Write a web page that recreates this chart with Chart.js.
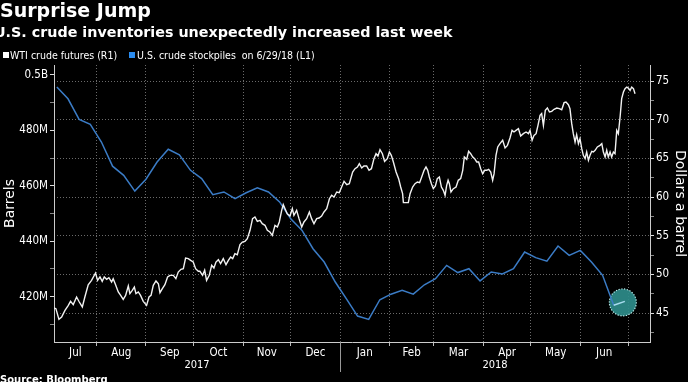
<!DOCTYPE html>
<html>
<head>
<meta charset="utf-8">
<script src="https://cdn.jsdelivr.net/npm/chart.js@4/dist/chart.umd.min.js"></script>
<style>
  html, body { margin: 0; padding: 0; background: #000; }
  body { width: 688px; height: 382px; position: relative; overflow: hidden; }
  canvas { position: absolute; left: 0; top: 0; }
  .t { position: absolute; color: #fff; white-space: nowrap; }
  #title { left: 0; top: 1px; font: bold 19px/19px "DejaVu Sans", sans-serif; }
  #subtitle { left: -6px; top: 25px; font: bold 14.3px/15px "DejaVu Sans", sans-serif; }
  .lg { position: absolute; top: 49px; font: 10.5px/12px "DejaVu Sans Condensed", "DejaVu Sans", sans-serif; color: #fff; white-space: nowrap; }
  .sq { position: absolute; top: 52px; width: 6px; height: 6px; }
  #source { left: 0; top: 374px; font: bold 10px/12px "DejaVu Sans", sans-serif; }
</style>
</head>
<body>
<canvas id="c" width="688" height="382"></canvas>
<div class="t" id="title">Surprise Jump</div>
<div class="t" id="subtitle">U.S. crude inventories unexpectedly increased last week</div>
<div class="sq" style="left:3px;background:#fff"></div>
<div class="lg" style="left:10px">WTI crude futures (R1)</div>
<div class="sq" style="left:129px;background:#2a8cf0"></div>
<div class="lg" style="left:137px">U.S. crude stockpiles&nbsp; on 6/29/18 (L1)</div>
<div class="t" id="source">Source: Bloomberg</div>
<script>
// ---------- DATA ----------
// WTI crude futures, $/barrel (days counted from 2017-07-01)
const wtiDays = [
  4.2,5.4,7.3,9.0,11.1,13.2,14.6,16.3,18.4,20.1,22.0,23.6,25.7,27.8,30.3,31.6,33.1,34.5,35.8,37.3,
  38.7,40.4,41.4,42.9,44.6,46.1,47.7,49.2,50.9,51.9,53.4,54.7,55.7,57.2,58.6,60.3,62.4,63.9,65.2,66.6,
  68.3,69.8,70.8,72.3,73.9,75.6,77.1,79.2,80.8,82.3,84.0,85.5,86.9,88.6,90.1,91.7,93.2,94.9,
  95.9,97.6,98.9,100.1,101.8,103.3,104.7,106.0,107.5,108.9,110.6,112.3,113.8,115.2,116.5,117.9,119.4,
  121.1,122.6,124.2,125.7,127.4,129.0,130.5,132.0,133.7,135.1,136.8,138.3,139.9,141.4,143.1,144.6,
  145.8,147.3,148.3,149.4,150.8,152.5,154.0,155.0,156.7,158.2,159.9,161.3,163.0,164.7,166.1,167.6,
  169.3,170.8,172.4,173.9,175.6,177.3,178.7,180.2,181.9,183.5,185.0,186.5,188.2,189.8,
  190.2,191.9,193.4,194.9,196.1,197.6,199.0,200.7,202.2,203.7,205.3,206.6,207.8,209.1,210.6,212.0,
  213.7,215.0,216.2,217.5,219.2,220.8,222.1,223.3,223.8,225.4,226.9,228.0,229.6,231.1,232.6,234.0,
  235.3,236.8,238.0,239.1,240.1,241.4,242.6,243.9,245.1,246.4,247.7,248.9,250.0,251.0,251.9,252.7,
  253.7,255.2,256.9,258.3,259.8,261.1,262.1,263.6,264.8,266.1,267.4,268.6,269.9,271.1,272.4,273.6,
  274.9,276.2,277.4,278.7,279.9,280.8,282.0,283.1,284.5,
  286.2,287.7,289.2,290.8,292.1,293.3,294.6,296.1,297.5,299.2,300.9,302.4,303.4,304.7,305.9,307.2,
  308.4,309.7,310.7,311.8,313.0,314.3,315.6,317.0,318.5,320.2,321.8,323.3,324.8,326.0,327.5,328.5,
  329.6,330.6,331.7,332.7,333.8,334.8,335.9,336.9,338.0,339.0,340.1,341.1,342.2,343.2,344.3,345.7,
  347.4,348.5,349.5,350.6,351.6,352.6,353.7,354.7,355.8,356.8,357.9,358.9,360.0,361.0,362.1,363.1,
  364.2,365.2,366.3,367.3,368.4,369.4
];
const wtiPrices = [
  45.65,45.56,44.18,44.48,45.34,45.99,46.51,46.08,47.07,46.42,45.78,47.07,48.66,49.22,50.17,49.22,49.66,49.09,49.66,49.35,
  49.57,49.01,49.44,48.66,47.72,47.28,46.77,47.28,48.49,47.50,47.93,48.36,47.50,47.72,47.28,46.51,45.99,47.07,47.28,48.58,
  49.14,48.79,47.63,48.15,48.66,49.66,49.87,49.87,49.44,50.30,50.65,50.73,52.11,52.03,51.81,51.59,50.73,50.39,
  50.39,49.87,50.52,49.22,49.87,51.16,50.82,51.59,51.90,51.38,52.03,51.25,51.81,52.24,52.03,52.67,52.54,
  53.84,54.18,54.27,54.61,55.69,57.20,57.41,56.85,56.98,56.55,56.34,55.69,55.47,55.04,56.34,56.12,
  56.77,58.28,59.01,58.49,57.84,57.54,58.49,57.63,58.28,57.20,56.12,56.77,57.20,58.06,57.20,56.55,
  57.20,57.28,57.54,58.06,58.49,59.78,60.22,60.00,60.65,60.56,61.29,62.03,61.59,61.72,
  61.72,63.23,63.66,63.88,64.31,63.75,64.01,64.01,63.45,63.66,64.96,65.60,65.30,66.12,65.60,64.61,
  64.96,65.82,65.39,64.53,63.23,62.37,61.29,60.43,59.27,59.27,59.27,60.43,61.29,61.72,61.94,61.85,
  62.59,63.45,63.88,63.45,62.59,61.72,61.08,61.42,62.37,62.59,61.29,60.86,60.22,61.51,62.16,61.72,
  60.65,61.08,61.29,62.16,62.37,63.45,65.17,64.87,65.91,65.60,65.17,64.96,64.53,64.53,63.66,63.02,
  63.45,63.45,63.58,63.23,62.16,63.02,65.39,66.47,66.90,
  67.33,66.34,66.68,67.63,68.62,68.41,68.62,68.84,67.89,68.19,68.41,68.19,68.62,67.33,67.97,68.19,
  69.27,70.56,70.78,69.27,71.21,71.51,70.99,71.08,71.34,71.51,71.42,71.29,72.20,72.28,71.94,71.42,
  69.48,68.19,67.11,68.06,66.90,67.54,66.25,65.39,64.96,65.82,64.74,65.39,65.91,65.82,66.03,66.47,
  66.68,66.90,65.82,65.17,66.03,65.17,65.82,65.17,65.82,65.60,68.62,68.19,70.34,72.72,73.58,74.01,
  74.22,74.09,73.79,74.22,74.01,73.36
];
// U.S. crude stockpiles, millions of barrels (weekly)
const stockDates = [
  '2017-07-07','2017-07-14','2017-07-21','2017-07-28','2017-08-04','2017-08-11','2017-08-18','2017-08-25',
  '2017-09-01','2017-09-08','2017-09-15','2017-09-22','2017-09-29','2017-10-06','2017-10-13','2017-10-20',
  '2017-10-27','2017-11-03','2017-11-10','2017-11-17','2017-11-24','2017-12-01','2017-12-08','2017-12-15',
  '2017-12-22','2017-12-29','2018-01-05','2018-01-12','2018-01-19','2018-01-26','2018-02-02','2018-02-09',
  '2018-02-16','2018-02-23','2018-03-02','2018-03-09','2018-03-16','2018-03-23','2018-03-30','2018-04-06',
  '2018-04-13','2018-04-20','2018-04-27','2018-05-04','2018-05-11','2018-05-18','2018-05-25','2018-06-01',
  '2018-06-08','2018-06-15','2018-06-22','2018-06-29'
];
const stockValues = [
  495.7,491.4,484.0,482.2,475.8,467.1,463.8,458.1,
  462.4,468.6,473.2,471.2,465.6,462.6,456.8,457.8,
  455.4,457.5,459.3,457.8,454.2,448.1,444.0,437.3,
  432.5,425.3,419.2,413.0,411.8,418.9,420.9,422.3,
  420.9,424.3,426.5,431.3,428.7,430.1,425.7,428.9,
  428.2,430.1,436.1,434.1,432.8,438.3,434.9,436.7,
  432.5,427.7,416.9,418.3
];
// Axis labels
const monthLabels = ['Jul','Aug','Sep','Oct','Nov','Dec','Jan','Feb','Mar','Apr','May','Jun'];
const monthStarts = ['2017-08-01','2017-09-01','2017-10-01','2017-11-01','2017-12-01','2018-01-01',
                     '2018-02-01','2018-03-01','2018-04-01','2018-05-01','2018-06-01','2018-07-01'];
const yearLabels = ['2017','2018'];
const yearBreak = '2018-01-01';
const xStart = 4.2, xEnd = 378.8;
const leftMajor = [420, 440, 460, 480, 500];
const leftMinor = [410, 430, 450, 470, 490];
const leftLabels = ['420M','440M','460M','480M','0.5B'];
const rightMajor = [45, 50, 55, 60, 65, 70, 75];
const rightMinor = [42.5, 47.5, 52.5, 57.5, 62.5, 67.5, 72.5];

// ---------- helpers ----------
const base = Date.UTC(2017, 6, 1);
function dayOf(s) { const p = s.split('-').map(Number); return (Date.UTC(p[0], p[1]-1, p[2]) - base) / 86400000; }
const boundaryDays = monthStarts.map(dayOf);
const labelDays = monthLabels.map((m, i) => {
  const a = i === 0 ? xStart : boundaryDays[i-1];
  const b = boundaryDays[i];
  return (a + b) / 2;
});
const breakDay = dayOf(yearBreak);

const wtiData = wtiDays.map((d, i) => ({ x: d, y: wtiPrices[i] }));
const stockData = stockDates.map((s, i) => ({ x: dayOf(s), y: stockValues[i] }));
const lastIdx = stockData.length - 1;

const FONT = '"DejaVu Sans Condensed", "DejaVu Sans", sans-serif';
const isBoundary = v => boundaryDays.some(b => Math.abs(b - v) < 1e-6);

const extras = {
  id: 'extras',
  beforeDatasetsDraw(chart) {
    const meta = chart.getDatasetMeta(1);
    const pt = meta.data[lastIdx];
    const ctx = chart.ctx;
    ctx.save();
    ctx.beginPath();
    ctx.arc(pt.x - 2, pt.y + 1, 13.5, 0, Math.PI * 2);
    ctx.fillStyle = 'rgba(46,140,138,0.92)';
    ctx.fill();
    ctx.setLineDash([1.2, 1.6]);
    ctx.lineWidth = 1.2;
    ctx.strokeStyle = '#bfeeee';
    ctx.stroke();
    ctx.restore();
  },
  afterDraw(chart) {
    const x = chart.scales.x;
    const ctx = chart.ctx;
    const area = chart.chartArea;
    const sep = x.getPixelForValue(breakDay);
    ctx.save();
    ctx.strokeStyle = '#999';
    ctx.lineWidth = 1;
    ctx.beginPath();
    ctx.moveTo(Math.round(sep) + 0.5, area.bottom);
    ctx.lineTo(Math.round(sep) + 0.5, area.bottom + 30);
    ctx.stroke();
    ctx.fillStyle = '#fff';
    ctx.font = '11px ' + FONT;
    ctx.textAlign = 'center';
    ctx.textBaseline = 'middle';
    ctx.fillText(yearLabels[0], (area.left + sep) / 2, area.bottom + 23);
    ctx.fillText(yearLabels[1], (sep + area.right) / 2, area.bottom + 23);
    ctx.restore();
  }
};

new Chart(document.getElementById('c'), {
  type: 'line',
  data: {
    datasets: [
      {
        label: 'WTI crude futures (R1)',
        data: wtiData,
        yAxisID: 'yR',
        borderColor: '#f2f2f2',
        borderWidth: 1.4,
        pointRadius: 0,
        tension: 0
      },
      {
        label: 'U.S. crude stockpiles on 6/29/18 (L1)',
        data: stockData,
        yAxisID: 'yL',
        borderColor: '#3b7cc6',
        borderWidth: 1.5,
        pointRadius: 0,
        tension: 0,
        segment: {
          borderColor: c => c.p1DataIndex === lastIdx ? '#a8dcef' : undefined
        }
      }
    ]
  },
  options: {
    responsive: false,
    animation: false,
    layout: { padding: { top: 65, left: 0, right: 0, bottom: 0 } },
    plugins: { legend: { display: false }, tooltip: { enabled: false } },
    scales: {
      x: {
        type: 'linear',
        min: xStart,
        max: xEnd,
        afterFit(s) { s.height = 40; },
        afterBuildTicks(s) {
          s.ticks = boundaryDays.map(v => ({ value: v })).concat(labelDays.map(v => ({ value: v })))
            .sort((a, b) => a.value - b.value);
        },
        ticks: {
          autoSkip: false,
          maxRotation: 0,
          padding: 0,
          color: '#fff',
          font: { family: FONT, size: 11.5 },
          callback(v) {
            const i = labelDays.findIndex(d => Math.abs(d - v) < 1e-6);
            return i >= 0 ? monthLabels[i] : '';
          }
        },
        grid: {
          color: c => (c.tick && isBoundary(c.tick.value)) ? '#6a6a6a' : 'transparent',
          tickColor: c => (c.tick && isBoundary(c.tick.value)) ? '#bbb' : 'transparent',
          tickLength: 4,
          lineWidth: 1
        },
        border: { display: true, color: '#ccc', width: 1, dash: [1, 2] }
      },
      yL: {
        type: 'linear',
        position: 'left',
        min: 403.65,
        max: 503.6,
        afterFit(s) { s.width = 54; },
        afterBuildTicks(s) {
          s.ticks = leftMinor.concat(leftMajor).sort((a, b) => a - b).map(v => ({ value: v }));
        },
        ticks: {
          color: '#fff',
          padding: 2,
          font: { family: FONT, size: 11.5 },
          callback(v) {
            const i = leftMajor.indexOf(v);
            return i >= 0 ? leftLabels[i] : '';
          }
        },
        grid: {
          drawOnChartArea: false,
          tickLength: 4,
          tickColor: c => (c.tick && leftMajor.indexOf(c.tick.value) >= 0) ? '#ddd' : '#888'
        },
        border: { display: true, color: '#ccc', width: 1 },
        title: {
          display: true,
          text: 'Barrels',
          color: '#fff',
          font: { family: '"DejaVu Sans", sans-serif', size: 14 },
          padding: { top: 2, bottom: 0 }
        }
      },
      yR: {
        type: 'linear',
        position: 'right',
        min: 41.25,
        max: 77.07,
        afterFit(s) { s.width = 38; },
        afterBuildTicks(s) {
          s.ticks = rightMinor.concat(rightMajor).sort((a, b) => a - b).map(v => ({ value: v }));
        },
        ticks: {
          color: '#fff',
          padding: 2,
          font: { family: FONT, size: 11.5 },
          callback(v) { return rightMajor.indexOf(v) >= 0 ? String(v) : ''; }
        },
        grid: {
          color: c => (c.tick && rightMajor.indexOf(c.tick.value) >= 0) ? '#6a6a6a' : 'transparent',
          tickColor: c => (c.tick && rightMajor.indexOf(c.tick.value) >= 0) ? '#ddd' : '#888',
          tickLength: 4
        },
        border: { display: true, color: '#ccc', width: 1, dash: [1, 2] },
        title: {
          display: true,
          text: 'Dollars a barrel',
          color: '#fff',
          font: { family: '"DejaVu Sans", sans-serif', size: 14 },
          padding: { top: 0, bottom: 2 }
        }
      }
    }
  },
  plugins: [extras]
});
</script>
</body>
</html>
